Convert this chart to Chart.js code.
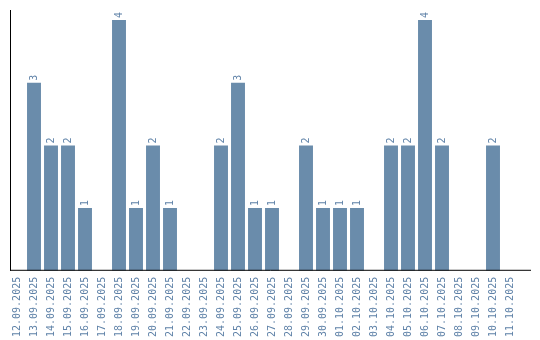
<!DOCTYPE html>
<html>
<head>
<meta charset="utf-8">
<script src="https://cdn.jsdelivr.net/npm/chart.js@4.4.1/dist/chart.umd.min.js"></script>
<style>
  html, body { margin: 0; padding: 0; background: #fff; }
  #wrap { width: 540px; height: 340px; position: relative; }
</style>
</head>
<body>
<div id="wrap"><canvas id="dayChart"></canvas></div>
<script>
const days = [
    '12.09.2025', '13.09.2025', '14.09.2025', '15.09.2025', '16.09.2025',
    '17.09.2025', '18.09.2025', '19.09.2025', '20.09.2025', '21.09.2025',
    '22.09.2025', '23.09.2025', '24.09.2025', '25.09.2025', '26.09.2025',
    '27.09.2025', '28.09.2025', '29.09.2025', '30.09.2025', '01.10.2025',
    '02.10.2025', '03.10.2025', '04.10.2025', '05.10.2025', '06.10.2025',
    '07.10.2025', '08.10.2025', '09.10.2025', '10.10.2025', '11.10.2025'
];
const counts = [
    0, 3, 2, 2, 1, 0, 4, 1, 2, 1,
    0, 0, 2, 3, 1, 1, 0, 2, 1, 1,
    1, 0, 2, 2, 4, 2, 0, 0, 2, 0
];

const barColor = '#6a8cab';
const textColor = '#5f82a8';
const monoFont = "'DejaVu Sans Mono', monospace";

// numbers written upwards just above each bar
const valueLabels = {
    id: 'valueLabels',
    afterDatasetsDraw(chart) {
        const ctx = chart.ctx;
        const meta = chart.getDatasetMeta(0);
        ctx.save();
        ctx.fillStyle = textColor;
        ctx.font = '10px ' + monoFont;
        ctx.textAlign = 'left';
        ctx.textBaseline = 'middle';
        meta.data.forEach((bar, i) => {
            const v = counts[i];
            if (!v) return;
            ctx.save();
            ctx.translate(bar.x, bar.y - 2);
            ctx.rotate(-Math.PI / 2);
            ctx.fillText(String(v), 0, 0);
            ctx.restore();
        });
        ctx.restore();
    }
};

// plain black axis lines
const axisLines = {
    id: 'axisLines',
    afterDraw(chart) {
        const ctx = chart.ctx;
        const area = chart.chartArea;
        ctx.save();
        ctx.strokeStyle = '#000';
        ctx.lineWidth = 1;
        ctx.beginPath();
        ctx.moveTo(10.5, 10);
        ctx.lineTo(10.5, area.bottom);
        ctx.moveTo(10, area.bottom - 0.5);
        ctx.lineTo(531, area.bottom - 0.5);
        ctx.stroke();
        ctx.restore();
    }
};

new Chart(document.getElementById('dayChart'), {
    type: 'bar',
    data: {
        labels: days,
        datasets: [{
            data: counts,
            backgroundColor: barColor,
            categoryPercentage: 1.0,
            barPercentage: 0.82,
        }]
    },
    options: {
        responsive: true,
        maintainAspectRatio: false,
        animation: false,
        layout: {
            padding: { left: 8.5, right: 21.5, top: 10, bottom: -3 }
        },
        plugins: {
            legend: { display: false },
            tooltip: { enabled: false }
        },
        scales: {
            x: {
                grid: { display: false, drawTicks: false },
                border: { display: false },
                ticks: {
                    autoSkip: false,
                    minRotation: 90,
                    maxRotation: 90,
                    padding: 6,
                    color: textColor,
                    font: { family: monoFont, size: 10 }
                }
            },
            y: {
                display: false,
                min: 0,
                max: 4.16
            }
        }
    },
    plugins: [valueLabels, axisLines]
});
</script>
</body>
</html>
